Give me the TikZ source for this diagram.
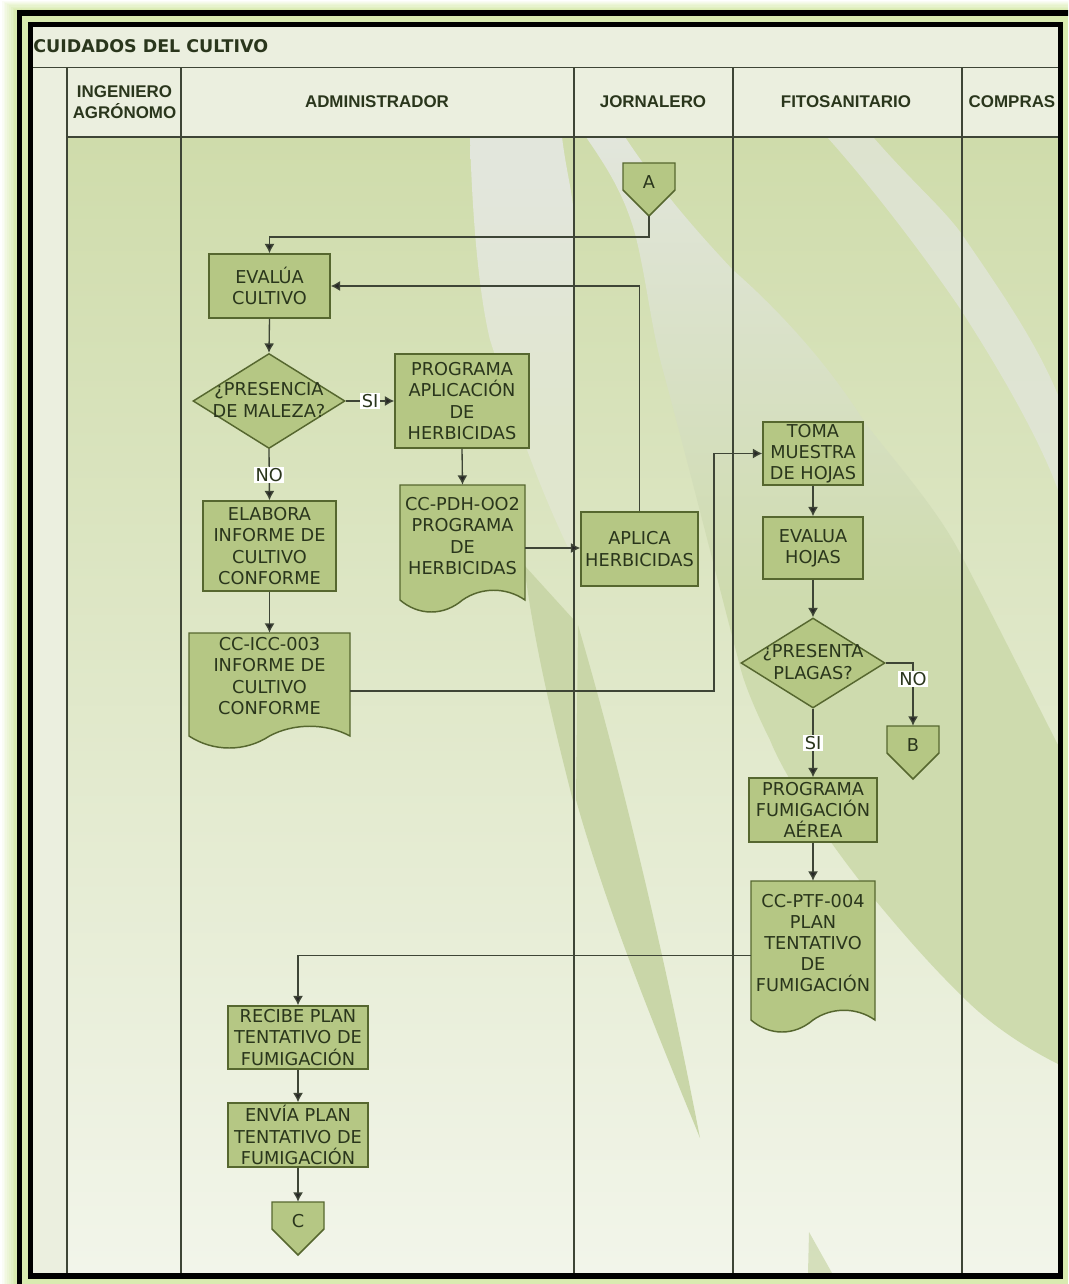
\documentclass[tikz,border=0pt]{standalone}
\usepackage{fontspec}
\setmainfont{DejaVu Sans}
\newfontfamily\hdfont{Liberation Sans}
\usetikzlibrary{arrows.meta,shapes.geometric}
\definecolor{glow}{HTML}{D9EBB0}
\definecolor{band}{HTML}{EBEFDF}
\definecolor{bodytop}{HTML}{CFDCAB}
\definecolor{bodybot}{HTML}{F2F5EA}
\definecolor{pale}{HTML}{E2E6DC}
\definecolor{palelow}{HTML}{E0E6CE}
\definecolor{leaf}{HTML}{CEDBAE}
\definecolor{sliver}{HTML}{C9D6A8}
\definecolor{boxfill}{HTML}{B5C784}
\definecolor{boxline}{HTML}{56672F}
\definecolor{lane}{HTML}{3E4536}
\definecolor{ink}{HTML}{2A361C}
\pgfdeclareverticalshading{swoosh}{100bp}{color(0bp)=(leaf); color(50bp)=(leaf); color(75bp)=(pale); color(100bp)=(pale)}
\pgfdeclareverticalshading{swooshb}{100bp}{color(0bp)=(palelow); color(40bp)=(palelow); color(70bp)=(pale); color(100bp)=(pale)}
\tikzset{
  x=0.75pt,y=-0.75pt,
  shapeline/.style={draw=boxline,line width=1.1pt,fill=boxfill,line join=miter},
  flowbox/.style 2 args={shapeline,rectangle,inner sep=0pt,minimum width=(#1)*0.75pt,minimum height=(#2)*0.75pt,
     align=center,text=ink,font=\fontsize{13.3}{15.9}\selectfont},
  flowdec/.style 2 args={shapeline,diamond,inner sep=0pt,aspect=1.6,minimum width=(#1)*0.75pt,minimum height=(#2)*0.75pt},
  ghost/.style 2 args={rectangle,inner sep=0pt,minimum width=(#1)*0.75pt,minimum height=(#2)*0.75pt},
  flowtext/.style={inner sep=0pt,align=center,text=ink,font=\fontsize{13.3}{15.9}\selectfont},
  conn/.style={draw=lane,line width=1pt},
  arr/.style={conn,-{Latex[length=7pt,width=7.5pt,fill=black!85]}},
  lbl/.style={fill=white,inner sep=1pt,text=ink,font=\fontsize{13.3}{14}\selectfont},
  lanehead/.style={inner sep=0pt,align=center,text=ink,font=\hdfont\bfseries\fontsize{12.7}{15.9}\selectfont},
  laneline/.style={draw=lane,line width=1pt},
}
\newcommand{\pentagonoff}[4]{% name, cx, top, letter
  \draw[shapeline] ({#2-26},#3) -- ({#2+26},#3) -- ({#2+26},{#3+27}) -- (#2,{#3+53}) -- ({#2-26},{#3+27}) -- cycle;
  \node[ghost={52}{53}] (#1) at (#2,{#3+26.5}) {};
  \node[flowtext] (#1t) at (#2,{#3+19}) {#4};
}
\newcommand{\docshape}[8]{% name x1 y1 x2 yR yB textY text
  \draw[shapeline] (#2,#3) -- (#4,#3) -- (#4,#5)
    .. controls ({#4-0.15*(#4-#2)},{#5-13}) and ({#4-0.35*(#4-#2)},{#5-13}) .. ({(#2+#4)/2},#5)
    .. controls ({#2+0.35*(#4-#2)},{#5+16}) and ({#2+0.15*(#4-#2)},{#5+16}) .. (#2,#5) -- cycle;
  \node[ghost={#4-#2}{#6-#3}] (#1) at ({(#2+#4)/2},{(#3+#6)/2}) {};
  \node[flowtext] (#1t) at ({(#2+#4)/2},#7) {#8};
}
\begin{document}
\begin{tikzpicture}
\useasboundingbox (0,0) rectangle (1068,1284);
\clip (0,0) rectangle (1068,1284);
% page and glow
\fill[white] (0,0) rectangle (1068,1284);
\foreach \i in {0,...,8}{
  \pgfmathsetmacro{\m}{\i*12.5}
  \fill[glow!\m!white] ({\i*1.8},{\i*1.1}) rectangle (1068,1284);
}
% body
\fill[band] (33,27) rectangle (1058,1273);
\fill[top color=bodytop,bottom color=bodybot] (67,137) rectangle (1058,1273);
% background swooshes
\begin{scope}
\clip (67,137) rectangle (1058,1273);
\shade[shading=swooshb] (470,137) -- (562,137) .. controls (566,170) and (572,190) .. (574,215) -- (574,560)
  .. controls (530,470) and (510,400) .. (490,340) .. controls (478,290) and (472,210) .. cycle;
\shade[shading=swoosh] (586,137) -- (625,137) .. controls (660,190) and (700,235) .. (733,270)
  .. controls (790,320) and (835,375) .. (863,420) .. controls (885,450) and (935,505) .. (960,553)
  .. controls (985,600) and (1030,690) .. (1058,745) -- (1058,1064) .. controls (1020,1045) and (985,1020) .. (961,995)
  .. controls (930,965) and (900,930) .. (876,901) .. controls (850,870) and (790,790) .. (770,740)
  .. controls (755,710) and (745,685) .. (741,670) .. controls (725,610) and (690,470) .. (661,363)
  .. controls (650,320) and (645,270) .. (634,230) .. controls (622,190) and (605,165) .. cycle;
\fill[pale,fill opacity=.75] (827,137) -- (873,137) .. controls (915,185) and (940,205) .. (961,233)
  .. controls (1000,290) and (1035,340) .. (1058,395) -- (1058,490) .. controls (1040,440) and (1000,370) .. (959,307)
  .. controls (920,250) and (870,185) .. cycle;
\fill[sliver] (524,565) .. controls (535,650) and (555,730) .. (574,805) -- (574,620) -- cycle;
\fill[sliver] (578,625) .. controls (600,700) and (650,880) .. (700,1138) .. controls (660,1040) and (610,920) .. (576,800) -- cycle;
\fill[sliver,fill opacity=.7] (809,1232) -- (832,1273) -- (808,1273) -- cycle;
\end{scope}
% frames
\draw[black,line width=4pt] (19.5,13) -- (1075,13);
\draw[black,line width=4pt] (19.5,10) -- (19.5,1290);
\draw[black,line width=4.2pt] (30.5,1276) -- (30.5,24.5) -- (1060.5,24.5) -- (1060.5,1276) -- cycle;
% lanes
\foreach \xx in {67,181,574,733,962}{ \draw[laneline] (\xx,67.5) -- (\xx,1273); }
\draw[laneline] (33,67.5) -- (1058,67.5);
\draw[laneline] (67,137) -- (1058,137);
\node[lanehead,anchor=west,font=\bfseries\fontsize{13.1}{15}\selectfont] (title) at (33,46) {CUIDADOS DEL CULTIVO};
\node[lanehead] (h1) at (124.5,102) {INGENIERO\\AGRÓNOMO};
\node[lanehead] (h2) at (377,102) {ADMINISTRADOR};
\node[lanehead] (h3) at (653,102) {JORNALERO};
\node[lanehead] (h4) at (846,102) {FITOSANITARIO};
\node[lanehead] (h5) at (1012,102) {COMPRAS};
% shapes
\pentagonoff{A}{649}{163}{A}
\pentagonoff{B}{913}{726}{B}
\pentagonoff{C}{298}{1202}{C}
\node[flowbox={121}{64}] (EV) at (269.5,286) {EVALÚA\\CULTIVO};
\node[flowdec={152}{95}] (D1) at (269,401) {};
\node[flowtext] (D1t) at (269,400) {¿PRESENCIA\\DE MALEZA?};
\node[flowbox={134}{94}] (P1) at (462,401) {PROGRAMA\\APLICACIÓN\\DE\\HERBICIDAS};
\docshape{dP}{400}{485}{525}{600}{611}{536}{CC-PDH-OO2\\PROGRAMA\\DE\\HERBICIDAS}
\node[flowbox={117}{74}] (AP) at (639.5,549) {APLICA\\HERBICIDAS};
\node[flowbox={133}{90}] (EL) at (269.5,546) {ELABORA\\INFORME DE\\CULTIVO\\CONFORME};
\docshape{dI}{189}{633}{350}{736}{749}{676}{CC-ICC-003\\INFORME DE\\CULTIVO\\CONFORME}
\node[flowbox={100}{63}] (TM) at (813,453.5) {TOMA\\MUESTRA\\DE HOJAS};
\node[flowbox={100}{62}] (EH) at (813,548) {EVALUA\\HOJAS};
\node[flowdec={144}{90}] (D2) at (813,663) {};
\node[flowtext] (D2t) at (813,662) {¿PRESENTA\\PLAGAS?};
\node[flowbox={128}{64}] (PF) at (813,810) {PROGRAMA\\FUMIGACIÓN\\AÉREA};
\docshape{dT}{751}{881}{875}{1020}{1030}{943}{CC-PTF-004\\PLAN\\TENTATIVO\\DE\\FUMIGACIÓN}
\node[flowbox={140}{63}] (RP) at (298,1037.5) {RECIBE PLAN\\TENTATIVO DE\\FUMIGACIÓN};
\node[flowbox={140}{64}] (EP) at (298,1135) {ENVÍA PLAN\\TENTATIVO DE\\FUMIGACIÓN};
% connectors
\coordinate (j1) at (649,237);
\coordinate (j2) at (714,691);
\draw[arr] (A.south) -- (j1) -| (EV.north);
\draw[arr] (AP.north) |- (EV.east);
\draw[arr] (EV.south) -- (D1.north);
\draw[arr] (D1.east) -- node[lbl]{SI} (P1.west);
\draw[arr] (D1.south) -- node[lbl]{NO} (EL.north);
\draw[arr] (EL.south) -- (dI.north);
\draw[arr] (P1.south) -- (dP.north);
\draw[arr] (dP.east) -- (AP.west |- dP.east);
\draw[arr] (dI.east) -- (j2) |- (TM.west);
\draw[arr] (TM.south) -- (EH.north);
\draw[arr] (EH.south) -- (D2.north);
\draw[arr] (D2.east) -| node[lbl,pos=0.627]{NO} (B.north);
\draw[arr] (D2.south) -- node[lbl]{SI} (PF.north);
\draw[arr] (PF.south) -- (dT.north);
\draw[arr] (dT.west) -| (RP.north);
\draw[arr] (RP.south) -- (EP.north);
\draw[arr] (EP.south) -- (C.north);
\end{tikzpicture}
\end{document}
